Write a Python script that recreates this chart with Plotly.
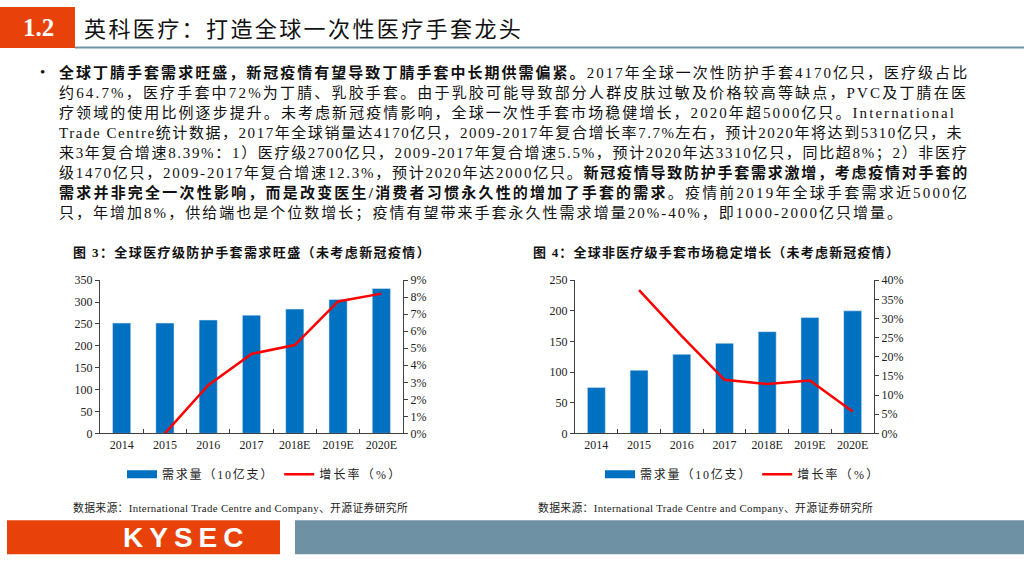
import re
import plotly.graph_objects as go

# data
years = ['2014', '2015', '2016', '2017', '2018E', '2019E', '2020E']

med_demand = [252, 252, 259, 270, 284, 306, 331]
med_growth = [None, 0.0, 0.0283, 0.0467, 0.0519, 0.0775, 0.0821]

nonmed_demand = [75, 103, 129, 147, 166, 189, 200]
nonmed_growth = [None, 0.374, 0.254, 0.140, 0.129, 0.138, 0.057]

bar_name = '需求量（10亿支）'
line_name = '增长率（%）'

body_lines = [
    '<b>全球丁腈手套需求旺盛，新冠疫情有望导致丁腈手套中长期供需偏紧。</b>2017年全球一次性防护手套4170亿只，医疗级占比',
    '约64.7%，医疗手套中72%为丁腈、乳胶手套。由于乳胶可能导致部分人群皮肤过敏及价格较高等缺点，PVC及丁腈在医',
    '疗领域的使用比例逐步提升。未考虑新冠疫情影响，全球一次性手套市场稳健增长，2020年超5000亿只。International',
    'Trade Centre统计数据，2017年全球销量达4170亿只，2009-2017年复合增长率7.7%左右，预计2020年将达到5310亿只，未',
    '来3年复合增速8.39%：1）医疗级2700亿只，2009-2017年复合增速5.5%，预计2020年达3310亿只，同比超8%；2）非医疗',
    '级1470亿只，2009-2017年复合增速12.3%，预计2020年达2000亿只。<b>新冠疫情导致防护手套需求激增，考虑疫情对手套的</b>',
    '<b>需求并非完全一次性影响，而是改变医生/消费者习惯永久性的增加了手套的需求</b>。疫情前2019年全球手套需求近5000亿',
    '只，年增加8%，供给端也是个位数增长；疫情有望带来手套永久性需求增量20%-40%，即1000-2000亿只增量。',
]

W, H = 1024, 576
FONT = 'Liberation Serif, Noto Sans CJK SC'
BLUE = '#0070C0'
RED = '#FF0000'
ORANGE = '#E8420A'
SLATE = '#6E91A4'
AXIS = '#404040'


def px(x):
    return x / W


def py(y):
    return 1 - y / H


def text_width(s, size):
    # rough width estimate, used to spread each line to the full column
    s = re.sub('<[^>]+>', '', s)
    w = 0
    for ch in s:
        if ord(ch) >= 0x2E80 or ch in '，。：；（）、':
            w += size
        elif ch.isdigit():
            w += 0.5 * size
        elif ch == '%':
            w += 0.833 * size
        elif ch in '.,':
            w += 0.25 * size
        elif ch == '-':
            w += 0.333 * size
        elif ch == '/':
            w += 0.278 * size
        elif ch == ' ':
            w += 0.25 * size
        elif ch.isupper():
            w += 0.667 * size
        else:
            w += 0.444 * size
    return w, len(s)


def spaced(s, ls):
    return '<span style="letter-spacing:%.2fpx">%s</span>' % (ls, s)


fig = go.Figure()

fig.add_trace(go.Bar(x=years, y=med_demand, name=bar_name, marker_color=BLUE,
                     xaxis='x', yaxis='y', showlegend=False))
fig.add_trace(go.Scatter(x=[None], y=[None], name=spaced(bar_name, 1.8), mode='lines',
                         line=dict(color=BLUE, width=8),
                         xaxis='x', yaxis='y', legend='legend'))
fig.add_trace(go.Scatter(x=years, y=med_growth, name=spaced(line_name, 2.2), mode='lines',
                         line=dict(color=RED, width=2.5),
                         xaxis='x', yaxis='y2', legend='legend'))
fig.add_trace(go.Bar(x=years, y=nonmed_demand, name=bar_name, marker_color=BLUE,
                     xaxis='x2', yaxis='y3', showlegend=False))
fig.add_trace(go.Scatter(x=[None], y=[None], name=spaced(bar_name, 1.8), mode='lines',
                         line=dict(color=BLUE, width=8),
                         xaxis='x2', yaxis='y3', legend='legend2'))
fig.add_trace(go.Scatter(x=years, y=nonmed_growth, name=spaced(line_name, 2.2), mode='lines',
                         line=dict(color=RED, width=2.5),
                         xaxis='x2', yaxis='y4', legend='legend2'))

ydom = [py(437), py(280)]
tickfont = dict(family=FONT, size=12, color='#222')

xcommon = dict(type='category', showline=True, linecolor=AXIS, linewidth=1,
               ticks='inside', tickson='boundaries', ticklen=4, tickcolor=AXIS,
               showgrid=False, tickfont=tickfont)
ycommon = dict(showline=True, linecolor=AXIS, linewidth=1, ticks='outside',
               ticklen=4, tickcolor=AXIS, showgrid=False, zeroline=False,
               tickfont=tickfont)

legfont = dict(family=FONT, size=12, color='#222')

fig.update_layout(
    width=W, height=H,
    margin=dict(l=0, r=0, t=0, b=0),
    paper_bgcolor='white', plot_bgcolor='white',
    bargap=0.58,
    xaxis=dict(domain=[px(100), px(403)], anchor='y', **xcommon),
    yaxis=dict(domain=ydom, anchor='x', range=[0, 350], dtick=50, **ycommon),
    yaxis2=dict(overlaying='y', side='right', anchor='x', range=[0, 0.09],
                dtick=0.01, tickformat='.0%', **ycommon),
    xaxis2=dict(domain=[px(575), px(874)], anchor='y3', **xcommon),
    yaxis3=dict(domain=ydom, anchor='x2', range=[0, 250], dtick=50, **ycommon),
    yaxis4=dict(overlaying='y3', side='right', anchor='x2', range=[0, 0.4],
                dtick=0.05, tickformat='.0%', **ycommon),
    legend=dict(orientation='h', x=px(122), y=py(479), yanchor='middle',
                font=legfont, itemwidth=30, bgcolor='rgba(0,0,0,0)'),
    legend2=dict(orientation='h', x=px(600), y=py(479), yanchor='middle',
                 font=legfont, itemwidth=30, bgcolor='rgba(0,0,0,0)'),
)

# header and footer blocks
shapes = [
    dict(type='rect', xref='paper', yref='paper', x0=0, x1=px(75), y0=py(42), y1=1,
         fillcolor=ORANGE, line_width=0, layer='below'),
    dict(type='line', xref='paper', yref='paper', x0=px(75), x1=1, y0=py(41.5), y1=py(41.5),
         line=dict(color=SLATE, width=2)),
    dict(type='rect', xref='paper', yref='paper', x0=px(7), x1=px(280), y0=py(561), y1=py(526),
         fillcolor=ORANGE, line_width=0, layer='below'),
    dict(type='rect', xref='paper', yref='paper', x0=px(295), x1=px(1024), y0=py(561), y1=py(526),
         fillcolor=SLATE, line_width=0, layer='below'),
]
fig.update_layout(shapes=shapes)

ann = []
ann.append(dict(text='<b>1.2</b>', x=px(38), y=py(21), xanchor='center', yanchor='middle',
                font=dict(family='Liberation Serif', size=25, color='white')))
ann.append(dict(text=spaced('英科医疗：打造全球一次性医疗手套龙头', 2.4), x=px(82), y=py(21),
                xanchor='left', yanchor='middle',
                font=dict(family='Noto Sans CJK SC', size=22, color='#111')))
ann.append(dict(text='•', x=px(38), y=py(67), xanchor='left', yanchor='middle',
                font=dict(family=FONT, size=15, color='#111')))

body_size = 15
left, right = 57, 965
gaps = []
for line in body_lines[:-1]:
    w, n = text_width(line, body_size)
    gaps.append((right - left - w) / (n - 1))
last_gap = sorted(gaps)[len(gaps) // 2]
for i, line in enumerate(body_lines):
    ls = gaps[i] if i < len(gaps) else last_gap
    ann.append(dict(text=spaced(line, ls), x=px(left), y=py(67 + i * 20.6),
                    xanchor='left', yanchor='middle',
                    font=dict(family=FONT, size=body_size, color='#111')))

ann.append(dict(text=spaced('<b>图 3：全球医疗级防护手套需求旺盛（未考虑新冠疫情）</b>', 1.4),
                x=px(71), y=py(252), xanchor='left', yanchor='middle',
                font=dict(family=FONT, size=13, color='#111')))
ann.append(dict(text=spaced('<b>图 4：全球非医疗级手套市场稳定增长（未考虑新冠疫情）</b>', 1.2),
                x=px(531), y=py(252), xanchor='left', yanchor='middle',
                font=dict(family=FONT, size=13, color='#111')))

src = spaced('数据来源：International Trade Centre and Company、开源证券研究所', 0.35)
ann.append(dict(text=src, x=px(71), y=py(513), xanchor='left', yanchor='middle',
                font=dict(family=FONT, size=10.8, color='#222')))
ann.append(dict(text=src, x=px(536), y=py(513), xanchor='left', yanchor='middle',
                font=dict(family=FONT, size=10.8, color='#222')))

ann.append(dict(text=spaced('<b>KYSEC</b>', 6), x=px(186), y=py(544), xanchor='center',
                yanchor='middle',
                font=dict(family='Liberation Sans', size=28, color='white')))

for a in ann:
    a.update(xref='paper', yref='paper', showarrow=False)
fig.update_layout(annotations=ann)

fig.write_html('out.html', config={'displayModeBar': False},
               post_script="document.body.style.margin='0';document.body.style.overflow='hidden';")
